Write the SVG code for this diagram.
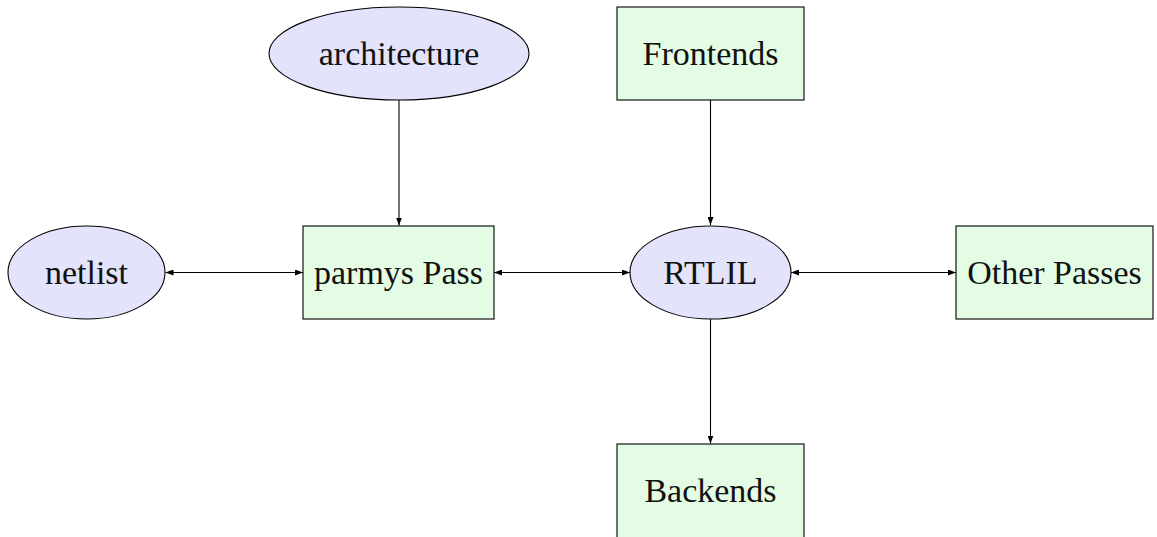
<svg xmlns="http://www.w3.org/2000/svg" width="1157" height="537" viewBox="0 0 1157 537">
  <defs>
    <marker id="ah" viewBox="0 0 8 6" refX="8" refY="3" markerWidth="8" markerHeight="6" markerUnits="userSpaceOnUse" orient="auto-start-reverse">
      <path d="M0,0 L8,3 L0,6 Z" fill="#000"/>
    </marker>
    <style>
      .ell { fill: #e3e3fc; stroke: #000; stroke-width: 1.1; }
      .box { fill: #e3fce3; stroke: #000; stroke-width: 1.1; }
      .lbl { font-family: "Liberation Serif", "DejaVu Serif", serif; font-size: 34px; fill: #111; text-anchor: middle; }
      .edge { stroke: #000; stroke-width: 1.1; fill: none; }
    </style>
  </defs>
  <rect width="1157" height="537" fill="#fff"/>

  <g id="connectors">
    <line class="edge" x1="399" y1="100" x2="399" y2="225.5" marker-end="url(#ah)"/>
    <line class="edge" x1="710.5" y1="100" x2="710.5" y2="225" marker-end="url(#ah)"/>
    <line class="edge" x1="710.5" y1="319" x2="710.5" y2="443.5" marker-end="url(#ah)"/>
    <line class="edge" x1="165.5" y1="272.5" x2="303" y2="272.5" marker-start="url(#ah)" marker-end="url(#ah)"/>
    <line class="edge" x1="494" y1="272.5" x2="630" y2="272.5" marker-start="url(#ah)" marker-end="url(#ah)"/>
    <line class="edge" x1="791" y1="272.5" x2="956" y2="272.5" marker-start="url(#ah)" marker-end="url(#ah)"/>
  </g>

  <g id="architecture">
    <ellipse class="ell" cx="399" cy="53.5" rx="130" ry="46.5"/>
    <text class="lbl" x="399" y="65">architecture</text>
  </g>

  <g id="frontends">
    <rect class="box" x="617" y="7" width="187" height="93"/>
    <text class="lbl" x="710.5" y="65">Frontends</text>
  </g>

  <g id="netlist">
    <ellipse class="ell" cx="86.5" cy="272.5" rx="78.5" ry="46.5"/>
    <text class="lbl" x="86.5" y="284">netlist</text>
  </g>

  <g id="parmys">
    <rect class="box" x="303" y="226" width="191" height="93"/>
    <text class="lbl" x="398.5" y="284">parmys Pass</text>
  </g>

  <g id="rtlil">
    <ellipse class="ell" cx="710.5" cy="272.5" rx="80.5" ry="46.5"/>
    <text class="lbl" x="710.5" y="284">RTLIL</text>
  </g>

  <g id="other-passes">
    <rect class="box" x="956" y="226" width="197" height="93"/>
    <text class="lbl" x="1054.5" y="284">Other Passes</text>
  </g>

  <g id="backends">
    <rect class="box" x="617" y="444" width="187" height="100"/>
    <text class="lbl" x="710.5" y="502">Backends</text>
  </g>
</svg>
